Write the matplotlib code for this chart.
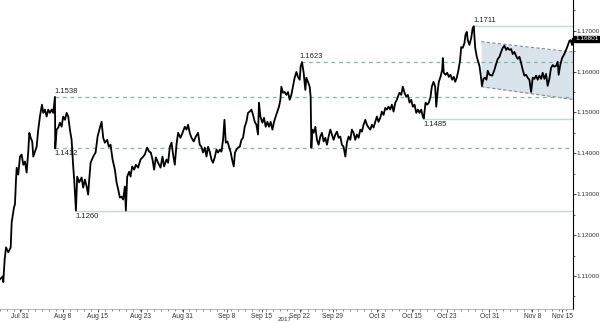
import matplotlib
matplotlib.use("Agg")
import matplotlib.pyplot as plt
from matplotlib.ticker import MultipleLocator, FormatStrFormatter
import matplotlib.transforms as mtransforms

# time in days from the left edge of the window, close prices
days = [
    0, 0.39, 0.47, 0.67, 0.86, 1.19, 1.53, 1.67, 2.0, 2.14,
    2.29, 2.39, 2.61, 2.86, 3.1, 3.33, 3.57, 3.81, 4.04, 4.19,
    4.39, 4.61, 4.76, 5.0, 5.24, 5.47, 5.71, 6.0, 6.19, 6.43,
    6.67, 6.9, 7.14, 7.39, 7.61, 7.86, 7.9, 8.1, 8.33, 8.57,
    8.81, 9.04, 9.29, 9.53, 9.76, 10.0, 10.24, 10.47, 10.61, 10.86,
    11.04, 11.33, 11.67, 11.9, 12.14, 12.39, 12.61, 12.76, 12.96, 13.33,
    13.67, 13.96, 14.29,
    14.53, 14.76, 15.0, 15.33, 15.57, 15.81, 16.1, 16.43, 16.67, 16.9,
    17.14, 17.39, 17.61, 17.86, 18.0, 18.19, 18.47, 18.67, 18.9, 19.19,
    19.43, 19.76, 20.1, 20.39, 20.71, 21.04, 21.33, 21.57, 21.81, 22.04,
    22.29, 22.61, 22.96, 23.24, 23.47, 23.81, 24.04, 24.29, 24.53, 24.76,
    25.0, 25.24, 25.47, 25.81, 26.1, 26.43, 26.67, 26.9, 27.14, 27.39,
    27.71, 28.0, 28.33, 28.57,
    28.81, 29.04, 29.29, 29.53, 29.76, 30.0, 30.24, 30.47, 30.71, 30.96,
    31.19, 31.43, 31.67, 31.9, 32.1, 32.29, 32.53, 32.76, 33.0, 33.19,
    33.43, 33.61, 33.81, 34.04, 34.29, 34.53, 34.76, 35.0, 35.24, 35.47,
    35.71, 35.96, 36.19, 36.43, 36.67, 36.9, 37.04, 37.24, 37.53, 37.76,
    38.0, 38.24, 38.47, 38.71, 38.96, 39.19, 39.43, 39.67, 39.9, 40.1,
    40.24, 40.47, 40.71, 40.96, 41.19, 41.43, 41.67, 41.9, 42.14, 42.39,
    42.61, 42.86,
    43.0, 43.19, 43.43, 43.67, 43.81, 44.04, 44.29, 44.43, 44.53, 44.67,
    44.86, 45.1, 45.33, 45.57, 45.81, 46.04, 46.29, 46.53, 46.76, 47.0,
    47.24, 47.47, 47.71, 47.96, 48.19, 48.43, 48.67, 48.9, 49.14, 49.39,
    49.61, 49.86, 50.1, 50.33, 50.57, 50.81, 51.04, 51.29, 51.53, 51.76,
    52.0, 52.24, 52.47, 52.71, 52.96, 53.19, 53.43, 53.67, 53.9, 54.14,
    54.39, 54.61, 54.86, 55.1, 55.33, 55.57, 55.81, 56.04, 56.29, 56.53,
    56.76, 57.0, 57.14,
    57.39, 57.61, 57.86, 58.1, 58.33, 58.57, 58.81, 59.04, 59.29, 59.53,
    59.76, 60.0, 60.24, 60.47, 60.61, 60.86, 61.1, 61.33, 61.57, 61.76,
    62.0, 62.24, 62.39, 62.57, 62.76, 63.0, 63.24, 63.33, 63.47, 63.71,
    63.96, 64.19, 64.43, 64.67, 64.9, 65.1, 65.33, 65.57, 65.81, 65.96,
    66.19, 66.43, 66.57, 66.76, 66.9, 67.14, 67.39, 67.61, 67.76, 67.96,
    68.19, 68.39,
    68.57, 68.76, 68.93, 69.14, 69.36, 69.57, 69.76, 70.0, 70.39, 70.71,
    70.96, 71.19, 71.43, 71.67, 71.9, 72.14, 72.39, 72.61, 72.86, 73.1,
    73.33, 73.57, 73.81, 74.04, 74.29, 74.53, 74.76, 75.0, 75.24, 75.47,
    75.71, 75.96, 76.19, 76.43, 76.67, 76.9, 77.14, 77.39, 77.61, 77.86,
    78.1, 78.33, 78.57, 78.81, 79.04, 79.29, 79.53, 79.76, 79.9, 80.1,
    80.39, 80.71, 80.96, 81.19, 81.43, 81.61, 81.81, 81.93,
]
close = [
    1.1092, 1.1099, 1.1085, 1.1141, 1.1170, 1.1158, 1.1170, 1.1231, 1.1268, 1.1275,
    1.1336, 1.1365, 1.1348, 1.1392, 1.1397, 1.1372, 1.1380, 1.1353, 1.1404, 1.1450,
    1.1438, 1.1429, 1.1392, 1.1404, 1.1416, 1.1458, 1.1490, 1.1519, 1.1499, 1.1507,
    1.1490, 1.1507, 1.1499, 1.1507, 1.1499, 1.1538, 1.1412, 1.1458, 1.1463, 1.1475,
    1.1465, 1.1490, 1.1482, 1.1499, 1.1490, 1.1458, 1.1433, 1.1368, 1.1336, 1.1260,
    1.1343, 1.1329, 1.1341, 1.1316, 1.1336, 1.1319, 1.1299, 1.1336, 1.1377, 1.1392,
    1.1402, 1.1441, 1.1463,
    1.1477, 1.1438, 1.1426, 1.1433, 1.1416, 1.1421, 1.1385, 1.1360, 1.1329, 1.1312,
    1.1292, 1.1294, 1.1287, 1.1319, 1.1260, 1.1343, 1.1355, 1.1343, 1.1368, 1.1360,
    1.1372, 1.1365, 1.1385, 1.1390, 1.1397, 1.1414, 1.1404, 1.1402, 1.1385, 1.1360,
    1.1390, 1.1377, 1.1365, 1.1392, 1.1368, 1.1385, 1.1377, 1.1416, 1.1426, 1.1397,
    1.1372, 1.1421, 1.1450, 1.1438, 1.1450, 1.1465, 1.1458, 1.1470, 1.1450, 1.1438,
    1.1429, 1.1441, 1.1450, 1.1421,
    1.1416, 1.1402, 1.1414, 1.1392, 1.1416, 1.1404, 1.1385, 1.1377, 1.1390, 1.1409,
    1.1402, 1.1409, 1.1404, 1.1433, 1.1482, 1.1426, 1.1429, 1.1416, 1.1402, 1.1385,
    1.1368, 1.1402, 1.1409, 1.1414, 1.1416, 1.1433, 1.1438, 1.1465, 1.1477, 1.1499,
    1.1502, 1.1507, 1.1494, 1.1477, 1.1470, 1.1446, 1.1524, 1.1490, 1.1475, 1.1487,
    1.1465, 1.1477, 1.1465, 1.1477, 1.1458, 1.1477, 1.1490, 1.1502, 1.1514, 1.1531,
    1.1563, 1.1548, 1.1550, 1.1543, 1.1550, 1.1531, 1.1543, 1.1563, 1.1585, 1.1599,
    1.1587, 1.1580,
    1.1612, 1.1623, 1.1597, 1.1555, 1.1585, 1.1575, 1.1563, 1.1538, 1.1414, 1.1458,
    1.1450, 1.1465, 1.1433, 1.1421, 1.1441, 1.1450, 1.1429, 1.1438, 1.1421, 1.1441,
    1.1458, 1.1446, 1.1433, 1.1446, 1.1453, 1.1438, 1.1441, 1.1421, 1.1416, 1.1392,
    1.1426, 1.1441, 1.1433, 1.1458, 1.1450, 1.1433, 1.1446, 1.1438, 1.1458, 1.1453,
    1.1470, 1.1482, 1.1470, 1.1463, 1.1458, 1.1470, 1.1463, 1.1477, 1.1490, 1.1477,
    1.1487, 1.1502, 1.1494, 1.1511, 1.1507, 1.1514, 1.1507, 1.1519, 1.1502, 1.1524,
    1.1531, 1.1543, 1.1548,
    1.1543, 1.1563, 1.1548, 1.1538, 1.1543, 1.1524, 1.1531, 1.1514, 1.1519, 1.1499,
    1.1507, 1.1499, 1.1507, 1.1490, 1.1485, 1.1524, 1.1519, 1.1524, 1.1538, 1.1563,
    1.1575, 1.1563, 1.1514, 1.1548, 1.1575, 1.1587, 1.1604, 1.1633, 1.1597, 1.1592,
    1.1597, 1.1587, 1.1592, 1.1580, 1.1587, 1.1575, 1.1585, 1.1604, 1.1629, 1.1660,
    1.1658, 1.1670, 1.1690, 1.1697, 1.1677, 1.1665, 1.1682, 1.1707, 1.1711, 1.1658,
    1.1636, 1.1624,
    1.1614, 1.1590, 1.1565, 1.1582, 1.1585, 1.1580, 1.1602, 1.1592, 1.1590, 1.1604,
    1.1619, 1.1631, 1.1636, 1.1648, 1.1658, 1.1663, 1.1653, 1.1658, 1.1653, 1.1655,
    1.1643, 1.1648, 1.1638, 1.1631, 1.1636, 1.1621, 1.1604, 1.1590, 1.1592, 1.1585,
    1.1580, 1.1550, 1.1585, 1.1582, 1.1590, 1.1580, 1.1590, 1.1582, 1.1597, 1.1582,
    1.1594, 1.1565, 1.1582, 1.1609, 1.1616, 1.1612, 1.1614, 1.1624, 1.1592, 1.1614,
    1.1633, 1.1643, 1.1653, 1.1663, 1.1675, 1.1677, 1.1665, 1.16801,
]

# support / resistance levels: value, start day, style, label side
level_values = [1.1711, 1.1623, 1.1538, 1.1485, 1.1412, 1.1260]
level_start = [67.76, 43.0, 7.86, 60.61, 7.9, 10.86]
level_dashed = [False, True, True, False, True, False]
level_label_above = [True, True, True, False, False, False]

# falling channel
channel_days = [68.81, 81.86]
channel_upper = [1.1673, 1.1648]
channel_lower = [1.1563, 1.1532]

tick_days = [2.86, 9.0, 14.0, 20.14, 26.14, 32.43, 37.43, 42.86, 47.57,
             53.86, 58.86, 63.86, 70.0, 76.14, 80.43]
tick_labels = ["Jul 31", "Aug 8", "Aug 15", "Aug 23", "Aug 31", "Sep 8", "Sep 15",
               "Sep 22", "Sep 29", "Oct 8", "Oct 15", "Oct 23", "Oct 31", "Nov 8", "Nov 15"]

plt.rcParams["font.family"] = ["Liberation Sans", "DejaVu Sans"]

fig = plt.figure(figsize=(6, 3.23), dpi=100)
ax = fig.add_axes([0, 0.043, 0.955, 0.957])

ax.fill_between(channel_days, channel_lower, channel_upper, color="#d9e3ec", lw=0, zorder=1)
ax.plot(channel_days, channel_upper, ls=(0, (3, 2)), color="#8a8a8a", lw=0.8, zorder=2)
ax.plot(channel_days, channel_lower, ls=(0, (3, 2)), color="#8a8a8a", lw=0.8, zorder=2)

for val, start, dashed, above in zip(level_values, level_start, level_dashed, level_label_above):
    if dashed:
        ax.plot([start, 82.2], [val, val], ls=(0, (3, 3)), color="#79b9a6", lw=0.9, zorder=2)
    else:
        ax.plot([start, 82.2], [val, val], ls="-", color="#bcdcd2", lw=1.0, zorder=2)
    off = 4 if above else -4
    ax.annotate(f"{val:.4f}", (start, val), xytext=(-0.5, off), textcoords="offset points",
                fontsize=5.5, color="#222222", va="center", ha="left")

ax.plot(days, close, color="black", lw=1.3, zorder=3)

ax.set_xlim(0, 81.95)
ax.set_ylim(1.1019, 1.1775)

ax.yaxis.tick_right()
ax.yaxis.set_major_locator(MultipleLocator(0.01))
ax.yaxis.set_minor_locator(MultipleLocator(0.005))
ax.yaxis.set_major_formatter(FormatStrFormatter("%.5f"))
ax.tick_params(axis="y", which="major", labelsize=4.6, length=2, width=0.6, pad=0.8, colors="#333333")
ax.tick_params(axis="y", which="minor", length=1.5, width=0.6, colors="#555555")

ax.set_xticks(tick_days)
ax.set_xticklabels(tick_labels)
ax.xaxis.set_minor_locator(MultipleLocator(1))
ax.tick_params(axis="x", which="major", labelsize=4.8, length=2, width=0.6, pad=0.5, colors="#333333")
ax.tick_params(axis="x", which="minor", length=1.5, width=0.6, colors="#777777")

for side in ["top", "left"]:
    ax.spines[side].set_visible(False)
ax.spines["right"].set_linewidth(0.8)
ax.spines["bottom"].set_linewidth(0.5)
ax.spines["bottom"].set_color("#999999")

trans = mtransforms.blended_transform_factory(ax.transData, ax.transAxes)
ax.text(40.7, -0.033, "2017", transform=trans, fontsize=4.5, ha="center", va="center",
        color="#333333")

ax.annotate(f"{close[-1]:.5f}", (1.0, close[-1]), xycoords=("axes fraction", "data"),
            xytext=(1.5, 0), textcoords="offset points", fontsize=4.6, color="white",
            va="center", ha="left",
            bbox=dict(boxstyle="square,pad=0.12", fc="black", ec="black"))

fig.savefig("out.png", dpi=100)
